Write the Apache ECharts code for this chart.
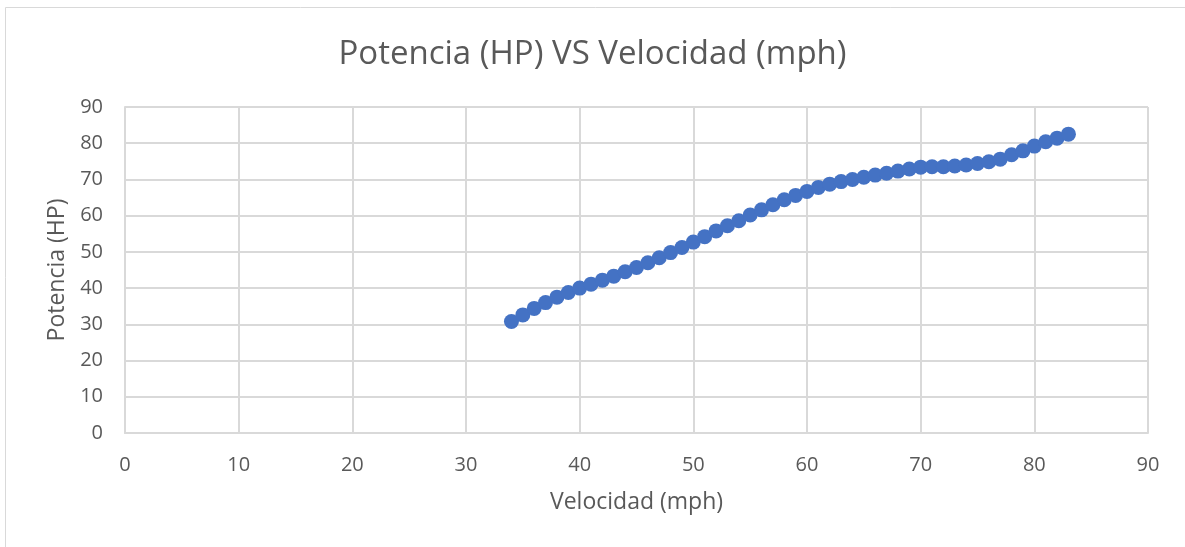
<!DOCTYPE html>
<html><head><meta charset="utf-8">
<script src="https://cdn.jsdelivr.net/npm/echarts@6/dist/echarts.min.js"></script>
<style>html,body{margin:0;padding:0;background:#fff}#c{width:1185px;height:547px}</style>
</head><body><div id="c"></div>
<script>
const velocidad = [34,35,36,37,38,39,40,41,42,43,44,45,46,47,48,49,50,51,52,53,54,55,56,57,58,59,60,61,62,63,64,65,66,67,68,69,70,71,72,73,74,75,76,77,78,79,80,81,82,83];
const potencia = [30.8,32.6,34.4,36.0,37.5,38.8,40.0,41.1,42.2,43.3,44.5,45.7,47.0,48.4,49.8,51.2,52.7,54.2,55.8,57.2,58.6,60.2,61.6,63.0,64.4,65.6,66.7,67.8,68.7,69.4,70.0,70.6,71.2,71.7,72.3,72.9,73.4,73.5,73.5,73.7,74.0,74.4,74.9,75.6,76.8,77.9,79.2,80.4,81.4,82.5];
const xTicks = {min:0, max:90, interval:10};
const yTicks = {min:0, max:90, interval:10};

const chart = echarts.init(document.getElementById('c'), null, {renderer:'canvas'});
const font = "'Open Sans', sans-serif";
chart.setOption({
  animation:false,
  graphic:[{type:'rect', shape:{x:5.5,y:7.5,width:1300,height:700}, style:{fill:'none', stroke:'#d9d9d9', lineWidth:1}, silent:true}],
  title:{text:'Potencia (HP) VS Velocidad (mph)', left:'center', top:33, textStyle:{fontFamily:font, fontSize:33, fontWeight:'normal', color:'#595959'}},
  grid:{left:125, right:37, top:107, bottom:114},
  xAxis:{type:'value', min:xTicks.min, max:xTicks.max, interval:xTicks.interval,
    name:'Velocidad (mph)', nameLocation:'middle', nameGap:58,
    nameTextStyle:{fontFamily:font, fontSize:23, color:'#595959'},
    axisLine:{show:true, lineStyle:{color:'#d9d9d9', width:2}}, axisTick:{show:false},
    axisLabel:{fontFamily:font, fontSize:20, color:'#595959', margin:22},
    splitLine:{show:true, lineStyle:{color:'#d9d9d9', width:2}}},
  yAxis:{type:'value', min:yTicks.min, max:yTicks.max, interval:yTicks.interval,
    name:'Potencia (HP)', nameLocation:'middle', nameGap:56,
    nameTextStyle:{fontFamily:font, fontSize:23, color:'#595959'},
    axisLine:{show:true, lineStyle:{color:'#d9d9d9', width:2}}, axisTick:{show:false},
    axisLabel:{fontFamily:font, fontSize:20, color:'#595959', margin:22},
    splitLine:{show:true, lineStyle:{color:'#d9d9d9', width:2}}},
  series:[{type:'scatter', data:velocidad.map((v,i)=>[v,potencia[i]]), symbol:'circle', symbolSize:15,
    itemStyle:{color:'#4472C4', opacity:1}}]
});
</script></body></html>
